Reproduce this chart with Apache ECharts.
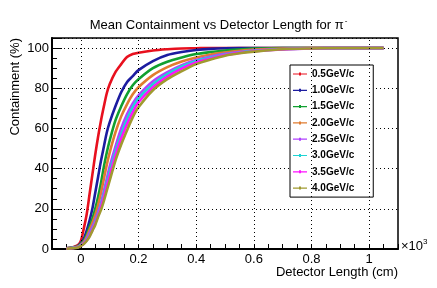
<!DOCTYPE html>
<html><head><meta charset="utf-8">
<script src="https://cdn.jsdelivr.net/npm/echarts@6/dist/echarts.min.js"></script>
<style>html,body{margin:0;padding:0;background:#fff}#c{width:437px;height:288px}</style>
</head><body><div id="c"></div>
<script>
// Detector length (x10^3 cm)
var lengths = [-0.05,-0.03,-0.01,0,0.01,0.02,0.03,0.04,0.05,0.06,0.07,0.08,0.09,0.1,0.12,0.14,0.16,0.18,0.2,0.25,0.3,0.35,0.4,0.45,0.5,0.55,0.6,0.7,0.8,0.9,1.0,1.05];
var names = ['0.5GeV/c','1.0GeV/c','1.5GeV/c','2.0GeV/c','2.5GeV/c','3.0GeV/c','3.5GeV/c','4.0GeV/c'];
var p05 = [0.3,0.8,2,4,10,17,27,37,47,56,64,71,77.5,82,88,92,95.5,97,97.7,98.8,99.4,99.8,99.9,100,100,100,100,100,100,100,100,100];
var p10 = [0.3,0.7,1.5,3,5,9,14,20,28,36,44,51,58,63,71,78,83,86,89,93.5,96.5,98,99,99.6,99.9,100,100,100,100,100,100,100];
var p15 = [0.3,0.6,1.3,2.5,4,7,11,15,20,26,33,41,48,54,64,71,77,81.5,84.5,90,93.2,95.3,97,98,98.8,99.3,99.7,100,100,100,100,100];
var p20 = [0.3,0.6,1.2,2.2,3.5,6,9.5,13,17,22,28,35,42,48,58,66,72,77,80.5,86.5,90.5,93.3,95.3,96.8,97.8,98.6,99.2,99.8,100,100,100,100];
var p25 = [0.3,0.5,1,2,3,5,8,11,14.5,18.5,23,29,35,41,51,60,67,72.5,76.5,83.5,88,91.5,94,95.8,97.1,98,98.7,99.5,99.9,100,100,100];
var p30 = [0.2,0.5,1,1.8,2.8,4.5,7,10,13.5,17.5,22,27.5,33,38.5,48.5,57,64.5,70.5,75,82,87,90.8,93.5,95.3,96.8,97.8,98.5,99.4,99.8,100,100,100];
var p35 = [0.2,0.4,0.9,1.6,2.6,4.2,6.5,9.5,12.8,16.8,21,26,31.5,36.5,46.5,55,62,68,73,80.5,85.8,89.8,92.8,94.8,96.5,97.6,98.4,99.3,99.8,100,100,100];
var p40 = [0.2,0.4,0.8,1.5,2.5,4,6,9,12,16,19.5,24,29,34,44,52,59,65.5,70.5,79,84.5,88.5,92,94.3,96.2,97.4,98.2,99.4,99.8,100,100,100];
var xMajorTicks = [0,0.2,0.4,0.6,0.8,1.0];
var colors = ['#e8101e','#1c1ca0','#10a030','#e07c30','#b040ff','#20d4d4','#ff10ff','#a09a30'];

var legendIcon = 'path://M0,3.4H14V4.6H0Z M6,2.5H8V5.5H6Z M0,0H0.01V0.01H0Z M13.99,7.99H14V8H13.99Z';
var allVals = [p05,p10,p15,p20,p25,p30,p35,p40];
var series = [];
series.push({
  type:'line', data:[[0.5,-50]], silent:true, z:1, showSymbol:false, symbol:'none',
  lineStyle:{width:0},
  markLine:{silent:true, symbol:'none', label:{show:false}, animation:false,
    lineStyle:{color:'#000', type:[1,3], width:1},
    data: xMajorTicks.map(function(v){return {xAxis:v};})}
});
allVals.forEach(function(vals,i){
  series.push({
    name:names[i], type:'line', z:3,
    data: lengths.map(function(x,j){return [x, vals[j]];}),
    symbol:'none', smooth:0.3,
    lineStyle:{width:2.6, color:colors[i]}, itemStyle:{color:colors[i]}
  });
});

var chart = echarts.init(document.getElementById('c'));
chart.setOption({
  animation:false,
  color: colors,
  title:{
    text:'{a|Mean Containment vs Detector Length for π}{s|-}',
    left:'center', top:12,
    textStyle:{fontWeight:'normal', rich:{
      a:{fontFamily:'Liberation Sans', fontWeight:'normal', fontSize:13, color:'#000'},
      s:{fontFamily:'Liberation Sans', fontWeight:'normal', fontSize:8, color:'#000', verticalAlign:'top', padding:[0,0,8,1]}
    }}
  },
  grid:{left:52, right:39, top:38, bottom:39, show:true, borderColor:'#000', borderWidth:1.5, backgroundColor:'transparent'},
  legend:{
    orient:'vertical', left:290, top:65,
    backgroundColor:'#fff', borderColor:'#000', borderWidth:1,
    padding:[4,19,4,3], itemGap:6.3, itemWidth:14, itemHeight:10,
    icon: legendIcon,
    textStyle:{fontFamily:'Liberation Sans', fontWeight:'bold', fontSize:10, color:'#000'},
    data:names
  },
  xAxis:[{
    type:'value', min:-0.1, max:1.1, interval:0.05,
    axisLine:{onZero:false, lineStyle:{color:'#000', width:2}},
    axisTick:{inside:true, length:5, lineStyle:{color:'#000', width:1}},
    splitLine:{show:false},
    axisLabel:{margin:4, fontFamily:'Liberation Sans', fontSize:13, color:'#000',
      formatter:function(v){
        var k = Math.round(v*100);
        if (k < 0 || k % 20 !== 0) return '';
        return k === 0 ? '0' : (k === 100 ? '1' : String(k/100));
      }},
    name:'Detector Length (cm)', nameLocation:'end', nameGap:0,
    nameTextStyle:{fontFamily:'Liberation Sans', fontSize:13, color:'#000', align:'right', verticalAlign:'top', padding:[17,0,0,0]}
  }],
  yAxis:[{
    type:'value', min:0, max:105, interval:20,
    axisLine:{show:true, onZero:false, lineStyle:{color:'#000', width:2}},
    axisTick:{show:true, inside:true, length:10, lineStyle:{color:'#000', width:1}},
    splitLine:{show:true, lineStyle:{color:'#000', type:[1,3], width:1}},
    axisLabel:{margin:3, fontFamily:'Liberation Sans', fontSize:13, color:'#000',
      formatter:function(v){ return (Math.round(v) % 20 === 0 && v <= 100) ? String(Math.round(v)) : ''; }}
  },{
    type:'value', min:0, max:105, interval:5, position:'left', offset:0,
    axisLine:{show:false, onZero:false}, splitLine:{show:false}, axisLabel:{show:false},
    axisTick:{show:true, inside:true, length:5, lineStyle:{color:'#000', width:1}}
  }],
  graphic:[
    {type:'text', x:15, y:38, rotation:Math.PI/2,
     style:{text:'Containment (%)', fontFamily:'Liberation Sans', fontSize:13, fill:'#000', align:'right', verticalAlign:'middle'}},
    {type:'text', x:401, y:246,
     style:{text:'{a|×10}{s|3}', fill:'#000', verticalAlign:'middle',
       rich:{a:{fontFamily:'Liberation Sans', fontSize:13, fill:'#000'}, s:{fontFamily:'Liberation Sans', fontSize:8, fill:'#000', verticalAlign:'top', padding:[0,0,8,0]}}}}
  ],
  series:series
});
</script>
</body></html>
